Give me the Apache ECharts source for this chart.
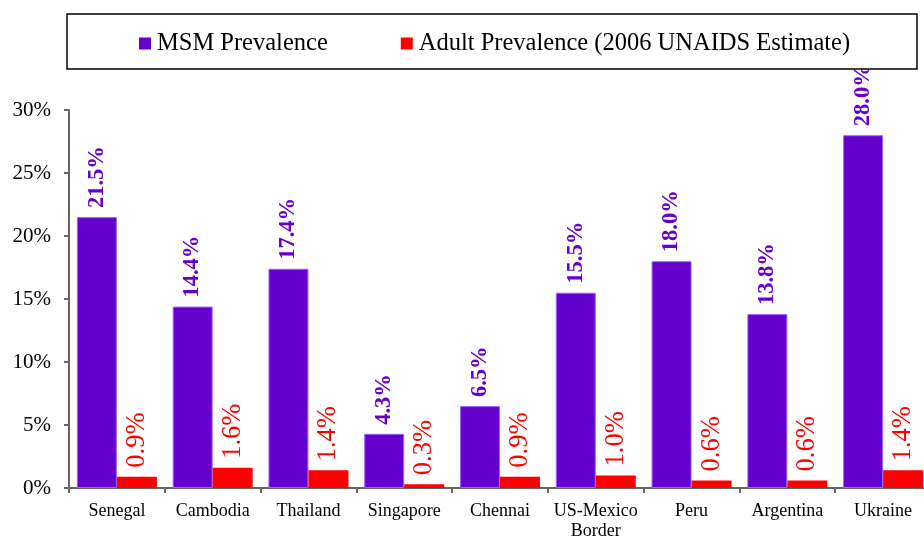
<!DOCTYPE html>
<html>
<head>
<meta charset="utf-8">
<script src="https://cdn.jsdelivr.net/npm/echarts@6/dist/echarts.min.js"></script>
<style>html,body{margin:0;padding:0;background:#fff;}#c{width:924px;height:538px;}</style>
</head>
<body>
<div id="c"></div>
<script>
const categories = ['Senegal', 'Cambodia', 'Thailand', 'Singapore', 'Chennai', 'US-Mexico\nBorder', 'Peru', 'Argentina', 'Ukraine'];
const msmPrevalence = [21.5, 14.4, 17.4, 4.3, 6.5, 15.5, 18.0, 13.8, 28.0];
const adultPrevalence = [0.9, 1.6, 1.4, 0.3, 0.9, 1.0, 0.6, 0.6, 1.4];
const seriesNames = ['MSM Prevalence', 'Adult Prevalence (2006 UNAIDS Estimate)'];
const yTicks = { min: 0, max: 30, interval: 5 };

const FONT = "'Liberation Serif', 'Times New Roman', serif";
const chart = echarts.init(document.getElementById('c'), null, { renderer: 'canvas' });
chart.setOption({
  animation: false,
  backgroundColor: '#ffffff',
  textStyle: { fontFamily: FONT },
  graphic: [{
    type: 'rect', z: 50,
    shape: { x: 67, y: 14, width: 850, height: 55 },
    style: { fill: '#ffffff', stroke: '#000000', lineWidth: 1.5 }
  }],
  legend: {
    z: 60,
    top: 31,
    left: 139,
    padding: 0,
    icon: 'rect',
    itemWidth: 12, itemHeight: 12, itemGap: 73,
    itemStyle: { borderWidth: 0 },
    textStyle: { fontFamily: FONT, fontSize: 24.5, color: '#000', padding: [0, 0, 0, 1] },
    data: seriesNames
  },
  grid: { left: 69, top: 110, width: 862, bottom: 50, containLabel: false, outerBoundsMode: 'none' },
  xAxis: {
    type: 'category',
    data: categories,
    axisLine: { lineStyle: { color: '#666', width: 2 } },
    axisTick: { show: true, length: 5, inside: false, lineStyle: { color: '#666', width: 2 } },
    axisLabel: { fontFamily: FONT, fontSize: 18, color: '#000', margin: 13, lineHeight: 20, interval: 0 }
  },
  yAxis: {
    type: 'value',
    min: yTicks.min, max: yTicks.max, interval: yTicks.interval,
    axisLine: { show: true, lineStyle: { color: '#666', width: 2 } },
    axisTick: { show: true, length: 5, lineStyle: { color: '#666', width: 2 } },
    splitLine: { show: false },
    axisLabel: { fontFamily: FONT, fontSize: 21, color: '#000', margin: 18, formatter: '{value}%' }
  },
  series: [
    {
      name: seriesNames[0], type: 'bar', data: msmPrevalence,
      barWidth: 40, barGap: '0%',
      itemStyle: { color: '#6600CC', borderColor: '#9966FF', borderWidth: 1 },
      label: {
        show: true, position: 'top', rotate: 90, align: 'left', verticalAlign: 'middle', distance: 9,
        fontFamily: FONT, fontSize: 22.5, fontWeight: 'bold', color: '#6600CC',
        formatter: p => p.value.toFixed(1) + '%'
      }
    },
    {
      name: seriesNames[1], type: 'bar', data: adultPrevalence,
      barWidth: 40, barGap: '0%',
      itemStyle: { color: '#FF0000' },
      label: {
        show: true, position: 'top', rotate: 90, align: 'left', verticalAlign: 'middle', distance: 9,
        fontFamily: FONT, fontSize: 26.5, color: '#FF0000',
        formatter: p => p.value.toFixed(1) + '%'
      }
    }
  ]
});
</script>
</body>
</html>
